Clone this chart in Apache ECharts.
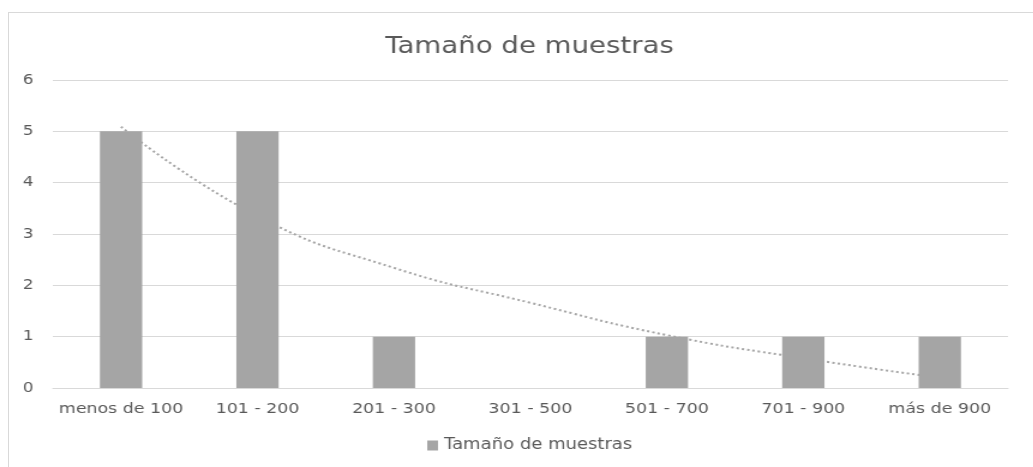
<!DOCTYPE html>
<html>
<head>
<meta charset="utf-8">
<script src="https://cdn.jsdelivr.net/npm/echarts@6/dist/echarts.min.js"></script>
<style>
  html, body { margin: 0; padding: 0; background: #fff; overflow: hidden; }
  #frame { position: absolute; left: 8px; top: 12px; width: 1100px; height: 500px; border: 1px solid #d9d9d9; }
  /* el original esta estirado en horizontal */
  #main { position: absolute; left: 0; top: 0; width: 861px; height: 467px; transform: scaleX(1.2); transform-origin: 0 0; }
</style>
</head>
<body>
<div id="frame"></div>
<div id="main"></div>
<script>
// categorias y valores
var categorias = ['menos de 100', '101 - 200', '201 - 300', '301 - 500', '501 - 700', '701 - 900', 'más de 900'];
var muestras = [5, 5, 1, 0, 1, 1, 1];
// linea de tendencia
var tendencia = [5.09, 3.35, 2.34, 1.66, 1.03, 0.58, 0.2];
var ticksY = [0, 1, 2, 3, 4, 5, 6];

var chart = echarts.init(document.getElementById('main'));
var fuente = 'DejaVu Sans';

var option = {
    animation: false,
    title: {
        text: 'Tamaño de muestras',
        left: 316,
        top: 31,
        textStyle: { color: '#595959', fontSize: 23, fontWeight: 'normal', fontFamily: fuente }
    },
    legend: {
        data: ['Tamaño de muestras'],
        bottom: 9,
        left: 351,
        icon: 'rect',
        itemWidth: 9,
        itemHeight: 10,
        itemGap: 3,
        textStyle: { color: '#595959', fontSize: 15, fontFamily: fuente }
    },
    grid: { left: 44, right: 21, top: 80, bottom: 79, containLabel: false },
    xAxis: {
        type: 'category',
        data: categorias,
        axisTick: { show: false },
        axisLine: { lineStyle: { color: '#d9d9d9' } },
        axisLabel: { color: '#595959', fontSize: 14.5, fontFamily: fuente, margin: 14, interval: 0 }
    },
    yAxis: {
        type: 'value',
        min: ticksY[0],
        max: ticksY[ticksY.length - 1],
        interval: 1,
        axisLine: { show: false },
        axisTick: { show: false },
        splitLine: { lineStyle: { color: '#d9d9d9' } },
        axisLabel: { color: '#595959', fontSize: 14, fontFamily: fuente, margin: 16 }
    },
    series: [
        {
            name: 'Tamaño de muestras',
            type: 'bar',
            data: muestras,
            barWidth: '31%',
            itemStyle: { color: '#a5a5a5' },
            z: 3
        },
        {
            name: 'Tendencia',
            type: 'line',
            data: tendencia,
            smooth: true,
            symbol: 'none',
            lineStyle: { color: '#a5a5a5', width: 2, type: [2, 2.5] },
            z: 2
        }
    ]
};
chart.setOption(option);
</script>
</body>
</html>
